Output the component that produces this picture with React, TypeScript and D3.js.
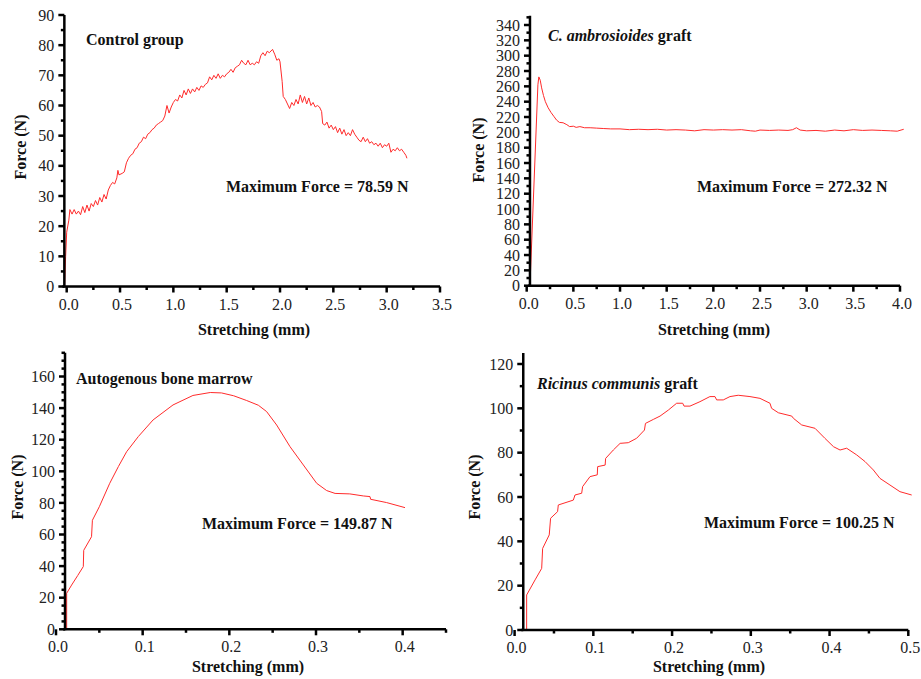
import * as d3 from "d3";

// stretching (mm), force (N)
const controlCurve: [number, number][] = [
  [-0.02, 0], [-0.01, 10], [0.0, 18], [0.02, 22], [0.03, 25.5], [0.05, 24], [0.07, 25.5], [0.09, 24],
  [0.11, 25], [0.13, 23.8], [0.15, 26.5], [0.17, 24.5], [0.19, 27], [0.21, 25], [0.23, 27.5], [0.25, 26.5],
  [0.27, 28.5], [0.29, 27], [0.31, 29.5], [0.33, 28], [0.35, 30.5], [0.37, 29], [0.39, 32], [0.41, 33.5],
  [0.43, 34.5], [0.45, 34], [0.47, 36], [0.48, 38.5], [0.49, 37], [0.52, 37.5], [0.54, 38], [0.56, 41],
  [0.58, 42.5], [0.6, 43.5], [0.62, 44], [0.64, 45.5], [0.66, 46], [0.68, 47.5], [0.7, 48], [0.72, 49.5],
  [0.74, 49], [0.76, 50.5], [0.78, 51], [0.8, 52], [0.82, 52.5], [0.84, 53.5], [0.86, 54], [0.88, 54.5],
  [0.9, 55], [0.92, 56.5], [0.94, 60], [0.96, 57.5], [0.98, 59.5], [1.0, 61], [1.02, 62], [1.04, 61.5],
  [1.06, 63.5], [1.08, 62.5], [1.1, 65], [1.12, 63.5], [1.14, 65.5], [1.16, 64], [1.18, 65.5], [1.2, 64.5],
  [1.22, 66], [1.24, 65], [1.26, 66.5], [1.28, 66], [1.3, 67], [1.32, 67.5], [1.34, 69.5], [1.36, 68.5],
  [1.38, 70], [1.4, 69], [1.42, 70.5], [1.44, 69], [1.46, 70], [1.48, 69.5], [1.5, 70.5], [1.52, 71],
  [1.54, 72], [1.56, 71], [1.58, 72.5], [1.6, 73], [1.62, 73.5], [1.64, 75], [1.66, 74], [1.68, 73.5],
  [1.7, 75], [1.72, 73.5], [1.74, 74], [1.76, 73.5], [1.78, 74.5], [1.8, 74], [1.82, 76.5], [1.84, 77.5],
  [1.86, 76.5], [1.88, 78], [1.9, 77.5], [1.93, 78.6], [1.95, 77], [1.97, 75], [1.99, 75.5], [2.0, 74.5],
  [2.02, 68], [2.03, 63], [2.05, 62], [2.07, 60.5], [2.09, 59], [2.11, 61], [2.13, 60], [2.15, 62],
  [2.17, 60.5], [2.19, 63.5], [2.21, 61], [2.23, 63], [2.25, 60.5], [2.27, 62.5], [2.29, 60], [2.31, 61],
  [2.33, 59.5], [2.35, 60], [2.37, 59.5], [2.39, 58], [2.4, 54], [2.42, 53.5], [2.44, 54.5], [2.46, 52.5],
  [2.48, 53.5], [2.5, 52], [2.52, 53], [2.54, 51], [2.56, 52.5], [2.58, 50.5], [2.6, 52], [2.62, 50],
  [2.64, 51], [2.66, 50], [2.68, 52], [2.7, 50.5], [2.72, 49.5], [2.74, 48.5], [2.76, 48], [2.78, 49.5],
  [2.8, 48], [2.82, 49], [2.84, 47.5], [2.86, 48], [2.88, 47], [2.9, 47.5], [2.92, 46.5], [2.94, 47.5],
  [2.96, 46], [2.98, 47], [3.0, 46.5], [3.02, 47.5], [3.04, 44.5], [3.06, 45.5], [3.08, 45], [3.1, 46],
  [3.12, 45], [3.14, 45.5], [3.16, 44.5], [3.18, 43.5], [3.19, 42.5],
];

const ambrosioidesCurve: [number, number][] = [
  [0.035, 0], [0.12, 262], [0.13, 272.3], [0.145, 268], [0.16, 258], [0.18, 248], [0.2, 240], [0.23, 232],
  [0.26, 226], [0.29, 221], [0.32, 216], [0.35, 213], [0.39, 212.5], [0.43, 210], [0.46, 207.5], [0.5, 208],
  [0.53, 206.5], [0.57, 207.5], [0.62, 206], [0.68, 206], [0.75, 205.5], [0.82, 205], [0.9, 204.5],
  [1.0, 204.5], [1.1, 203.5], [1.2, 204], [1.3, 203.5], [1.4, 204], [1.5, 203], [1.6, 203.5], [1.7, 203],
  [1.8, 202], [1.9, 203.5], [2.0, 203], [2.1, 203.5], [2.2, 203], [2.3, 203.5], [2.4, 202], [2.45, 201.5],
  [2.5, 203], [2.6, 202.5], [2.7, 203], [2.8, 202.5], [2.85, 203.5], [2.89, 206], [2.93, 203], [3.0, 202],
  [3.1, 202.5], [3.2, 201.5], [3.3, 203], [3.4, 202], [3.5, 203.5], [3.6, 202.5], [3.7, 203], [3.8, 202.5],
  [3.9, 202], [3.97, 201.5], [4.04, 204],
];

const marrowCurve: [number, number][] = [
  [0.0123, 0], [0.0123, 22.8], [0.018, 28], [0.025, 34], [0.0315, 39.7], [0.032, 50], [0.041, 58.6],
  [0.042, 69], [0.05, 77.6], [0.062, 92.4], [0.072, 103], [0.0815, 112.4], [0.095, 122], [0.112, 132.5],
  [0.135, 142], [0.158, 148], [0.178, 149.87], [0.191, 149.6], [0.205, 147.8], [0.22, 144.8], [0.2335, 141.8],
  [0.243, 137.8], [0.2546, 129.3], [0.27, 115.6], [0.2854, 104], [0.3008, 92.4], [0.3123, 87.8],
  [0.322, 86], [0.339, 85.7], [0.3546, 84.4], [0.3623, 84], [0.363, 82.3], [0.3815, 80.2], [0.4027, 77],
];

const ricinusCurve: [number, number][] = [
  [0.0153, 0], [0.0153, 15.8], [0.026, 22.6], [0.0344, 27.8], [0.0356, 36.8], [0.044, 42.9], [0.0457, 50.4],
  [0.0546, 53.4], [0.0555, 56.4], [0.0746, 58.6], [0.0767, 60.9], [0.0852, 61.7], [0.0864, 64.7],
  [0.0958, 69.2], [0.105, 70], [0.1055, 73.7], [0.115, 74.4], [0.1156, 77.4], [0.1254, 81.2], [0.134, 84.2],
  [0.1444, 84.5], [0.155, 86.5], [0.1649, 90.2], [0.1662, 93.2], [0.1762, 95], [0.1847, 96.5],
  [0.1952, 99.2], [0.2058, 102.3], [0.2135, 102.3], [0.2152, 101], [0.2227, 101], [0.2354, 103],
  [0.248, 105.3], [0.2545, 105.3], [0.2566, 103.8], [0.265, 103.8], [0.2735, 105.3], [0.284, 105.9],
  [0.2989, 105.3], [0.3116, 104.5], [0.3243, 102.3], [0.3264, 100], [0.335, 98], [0.352, 96.5],
  [0.3541, 95.5], [0.3646, 92.5], [0.3815, 91], [0.394, 86.5], [0.405, 82.7], [0.4133, 81.2],
  [0.4217, 82], [0.4344, 79], [0.445, 76], [0.4556, 72.2], [0.464, 68.4], [0.4767, 65.4], [0.4894, 62.4],
  [0.5043, 60.9],
];

const panelTitles = ["Control group", "C. ambrosioides", "Autogenous bone marrow", "Ricinus communis"];
const maxForceLabels = ["78.59", "272.32", "149.87", "100.25"];

const RED = "#ff2b2b";
const FONT = "'Liberation Serif', 'Times New Roman', serif";

type PanelSpec = {
  data: [number, number][];
  xDomain: [number, number];
  xRange: [number, number];
  yDomain: [number, number];
  yRange: [number, number];
  yTop: number;
  yAxisAt: number;
  xStep: number;
  xMinor: number;
  yStep: number;
  yMinor: number;
  title: React.ReactNode;
  titlePos: [number, number];
  maxText: string;
  maxPos: [number, number];
  xTitlePos: [number, number];
  yTitlePos: [number, number];
};

const panels: PanelSpec[] = [
  {
    data: controlCurve, xDomain: [0, 3.5], xRange: [66.7, 440], yDomain: [0, 90], yRange: [286.5, 15],
    yTop: 90, yAxisAt: -0.022, xStep: 0.5, xMinor: 0.25, yStep: 10, yMinor: 5,
    title: panelTitles[0], titlePos: [86, 45], maxText: maxForceLabels[0], maxPos: [226, 192],
    xTitlePos: [254, 335], yTitlePos: [20, 147],
  },
  {
    data: ambrosioidesCurve, xDomain: [0, 4], xRange: [526.7, 900], yDomain: [0, 340], yRange: [285.7, 25],
    yTop: 352, yAxisAt: 0.035, xStep: 0.5, xMinor: 0.25, yStep: 20, yMinor: 10,
    title: (
      <>
        <tspan fontStyle="italic">{panelTitles[1]}</tspan> graft
      </>
    ),
    titlePos: [548, 41], maxText: maxForceLabels[1], maxPos: [697, 192],
    xTitlePos: [714, 335], yTitlePos: [478, 150],
  },
  {
    data: marrowCurve, xDomain: [0, 0.45], xRange: [56, 446], yDomain: [0, 160], yRange: [629.3, 376.5],
    yTop: 175, yAxisAt: 0.0104, xStep: 0.1, xMinor: 0.05, yStep: 20, yMinor: 5,
    title: panelTitles[2], titlePos: [76, 384], maxText: maxForceLabels[2], maxPos: [202, 529],
    xTitlePos: [248, 672], yTitlePos: [17, 487],
  },
  {
    data: ricinusCurve, xDomain: [0, 0.5], xRange: [514.6, 908.3], yDomain: [0, 120], yRange: [630, 364],
    yTop: 125, yAxisAt: 0.011, xStep: 0.1, xMinor: 0.05, yStep: 20, yMinor: 10,
    title: (
      <>
        <tspan fontStyle="italic">{panelTitles[3]}</tspan> graft
      </>
    ),
    titlePos: [537, 389], maxText: maxForceLabels[3], maxPos: [704, 528],
    xTitlePos: [709, 672], yTitlePos: [474, 487],
  },
];

const steps = (max: number, step: number) =>
  d3.range(0, Math.floor(max / step + 1e-6) + 1).map((i) => +(i * step).toFixed(4));

function Panel({ p }: { p: PanelSpec }) {
  const x = d3.scaleLinear().domain(p.xDomain).range(p.xRange);
  const y = d3.scaleLinear().domain(p.yDomain).range(p.yRange);
  const line = d3.line<[number, number]>().x((d) => x(d[0])).y((d) => y(d[1]));
  const ax = x(p.yAxisAt);
  const base = y(0);
  const fx = d3.format(".1f");

  const xMajor = steps(p.xDomain[1], p.xStep);
  const xMinor = steps(p.xDomain[1], p.xMinor).filter((v) => !xMajor.some((m) => Math.abs(m - v) < 1e-6));
  const yMajor = steps(p.yDomain[1], p.yStep);
  const yMinor = steps(p.yTop, p.yMinor).filter((v) => !yMajor.some((m) => Math.abs(m - v) < 1e-6));

  return (
    <g fontFamily={FONT}>
      <path d={line(p.data) ?? ""} fill="none" stroke={RED} strokeWidth={1} />
      {/* x axis */}
      <line x1={ax - 2} x2={p.xRange[1]} y1={base} y2={base} stroke="#000" strokeWidth={2.5} />
      {xMajor.map((v) => (
        <g key={"xm" + v}>
          <line x1={x(v)} x2={x(v)} y1={base} y2={base + 6} stroke="#000" strokeWidth={2.5} />
          <text x={x(v) + 2} y={base + 23} fontSize={16} textAnchor="middle" fill="#222">
            {fx(v)}
          </text>
        </g>
      ))}
      {xMinor.map((v) => (
        <line key={"xn" + v} x1={x(v)} x2={x(v)} y1={base} y2={base + 3.5} stroke="#000" strokeWidth={2.5} />
      ))}
      {/* y axis */}
      <line x1={ax} x2={ax} y1={base + 1} y2={y(p.yTop)} stroke="#000" strokeWidth={2.5} />
      {yMajor.map((v) => (
        <g key={"ym" + v}>
          <line x1={ax - 6} x2={ax} y1={y(v)} y2={y(v)} stroke="#000" strokeWidth={2.5} />
          <text x={ax - 10} y={y(v)} dy="0.35em" fontSize={16} textAnchor="end" fill="#222">
            {v}
          </text>
        </g>
      ))}
      {yMinor.map((v) => (
        <line key={"yn" + v} x1={ax - 3.5} x2={ax} y1={y(v)} y2={y(v)} stroke="#000" strokeWidth={2.5} />
      ))}
      {/* titles */}
      <text x={p.xTitlePos[0]} y={p.xTitlePos[1]} fontSize={16} fontWeight="bold" textAnchor="middle" fill="#111">
        Stretching (mm)
      </text>
      <text
        transform={`translate(${p.yTitlePos[0]},${p.yTitlePos[1]}) rotate(-90)`}
        fontSize={16}
        fontWeight="bold"
        textAnchor="middle"
        dy="0.35em"
        fill="#111"
      >
        Force (N)
      </text>
      <text x={p.titlePos[0]} y={p.titlePos[1]} fontSize={16} fontWeight="bold" fill="#111">
        {p.title}
      </text>
      <text x={p.maxPos[0]} y={p.maxPos[1]} fontSize={16} fontWeight="bold" fill="#111">
        Maximum Force = {p.maxText} N
      </text>
    </g>
  );
}

export default function App() {
  return (
    <svg
      width={921}
      height={679}
      style={{ position: "absolute", left: 0, top: 0, background: "#fff" }}
    >
      {panels.map((p, i) => (
        <Panel key={i} p={p} />
      ))}
    </svg>
  );
}
